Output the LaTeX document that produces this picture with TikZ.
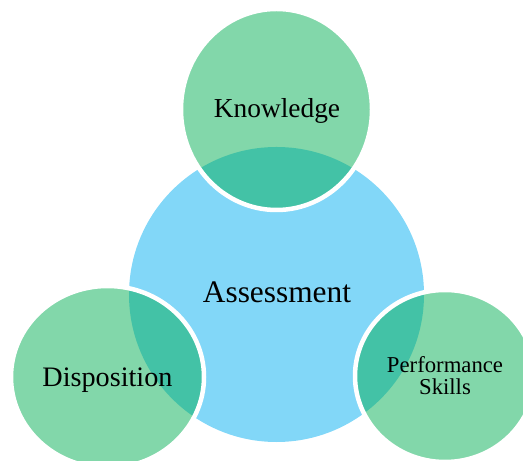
\documentclass[tikz,border=0pt]{standalone}
\usepackage{fontspec}
\setmainfont{Liberation Serif}
\usetikzlibrary{shapes.geometric}
\definecolor{coreblue}{RGB}{130,215,248}
\definecolor{petalgreen}{RGB}{5,175,85}
\tikzset{
  core/.style={circle, fill=coreblue, inner sep=0pt, minimum size=295bp},
  petal/.style={ellipse, fill=petalgreen, fill opacity=0.5, draw=white,
    draw opacity=1, line width=4.5bp, inner sep=0pt},
  label/.style={anchor=base, text=black, inner sep=0pt}
}
\begin{document}
\begin{tikzpicture}[x=1bp, y=1bp]
  \useasboundingbox (0,0) rectangle (523,461);
  % central circle
  \node[core] (assess) at (276.5,166.5) {};
  % three overlapping petals
  \node[petal, minimum width=191bp, minimum height=201bp] (know) at (276.5,351.5) {};
  \node[petal, minimum width=193bp, minimum height=182bp] (disp) at (107.5,84) {};
  \node[petal, minimum width=180bp, minimum height=172bp] (perf) at (445,85) {};
  % texts
  \node[label, font=\fontsize{31.5}{33}\selectfont] (tassess) at (277,158) {Assessment};
  \node[label, font=\fontsize{27.5}{28}\selectfont] (tknow) at (277,343) {Knowledge};
  \node[label, font=\fontsize{28.3}{29}\selectfont] (tdisp) at (107.5,74) {Disposition};
  \node[label, font=\fontsize{22.8}{22}\selectfont] (tperf) at (445,88) {Performance};
  \node[label, font=\fontsize{22.8}{22}\selectfont] (tskill) at (445,66) {Skills};
\end{tikzpicture}
\end{document}
